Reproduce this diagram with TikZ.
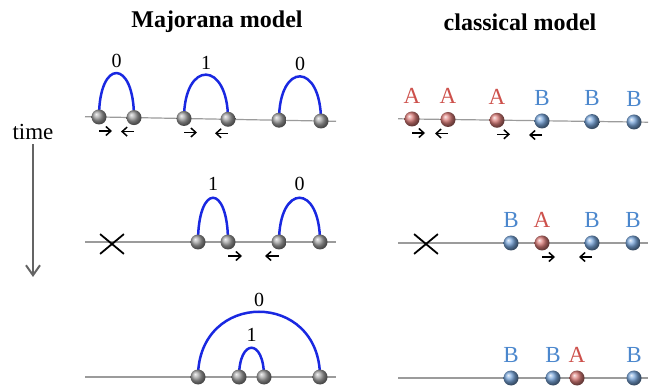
\documentclass[tikz,border=0pt]{standalone}
\usepackage{fontspec}
\setmainfont{Liberation Serif}
\usetikzlibrary{arrows.meta,backgrounds,shapes.misc}
\definecolor{archblue}{RGB}{25,40,225}
\definecolor{ared}{RGB}{205,80,75}
\definecolor{bblue}{RGB}{75,135,205}
\definecolor{wire}{RGB}{155,155,155}
\definecolor{tgray}{RGB}{100,100,100}

\begin{document}
\begin{tikzpicture}[x=0.5pt,y=0.5pt,label distance=3.75pt,
    ball/.style={circle,inner sep=0pt,minimum size=7.5pt,shading=ball,ball color=gray!75},
    aball/.style={ball,ball color=ared!75!white,label={[lta]above:A}},
    bball/.style={ball,ball color=bblue!75!white,label={[ltb]above:B}},
    lta/.style={text=ared,inner sep=0pt,font=\fontsize{11.5}{13}\selectfont},
    ltb/.style={lta,text=bblue},
    dig/.style={inner sep=0pt,font=\fontsize{10}{12}\selectfont},
    ttl/.style={inner sep=0pt,font=\fontsize{12}{14}\selectfont\bfseries},
    arch/.style={draw=archblue,line width=1.25pt},
    wireline/.style={draw=wire,line width=0.6pt},
    mv/.style={draw=black,line width=0.75pt,-{Straight Barb[length=2.5pt,width=4.5pt]}},
    lost/.style={cross out,draw=black,line width=0.9pt,minimum width=11pt,minimum height=9pt,inner sep=0pt}]
  \useasboundingbox (0,0) rectangle (657,390);
  \node[ttl] (tmaj) at (217,368) {Majorana model};
  \node[ttl] (tcla) at (520,368) {classical model};
  \node[inner sep=2pt,font=\fontsize{11.5}{13}\selectfont] (time) at (33,258) {time};
  \coordinate (tend) at (33,113);
  \draw[draw=tgray,line width=1pt,-{Straight Barb[length=5pt,width=7pt]}] (time) -- (tend);

  \node[ball] (m1) at (99,273) {}; \node[ball] (m2) at (134,272.4) {}; \node[ball] (m3) at (184,271.5) {};
  \node[ball] (m4) at (228,270.7) {}; \node[ball] (m5) at (279,269.8) {}; \node[ball] (m6) at (321,269) {};
  \node[lost] (nx) at (112,146) {};
  \node[ball] (n1) at (198,148) {}; \node[ball] (n2) at (228,148) {}; \node[ball] (n3) at (279,148) {}; \node[ball] (n4) at (320,148) {};
  \node[ball] (p1) at (198,13) {}; \node[ball] (p2) at (239,13) {}; \node[ball] (p3) at (264,13) {}; \node[ball] (p4) at (320,13) {};

  \node[aball] (c1) at (412,271) {}; \node[aball] (c2) at (448,270.5) {}; \node[aball] (c3) at (497,269.7) {};
  \node[bball] (c4) at (542,269) {}; \node[bball] (c5) at (592,268.4) {}; \node[bball] (c6) at (634,268) {};
  \node[lost] (dx) at (426,146) {};
  \node[bball] (d1) at (511,147) {}; \node[aball] (d2) at (542,147) {}; \node[bball] (d3) at (592,147) {}; \node[bball] (d4) at (633,147) {};
  \node[bball] (e1) at (511,12) {}; \node[bball] (e2) at (553,12) {}; \node[aball] (e3) at (577,12) {}; \node[bball] (e4) at (634,12) {};

  \draw[mv] ([yshift=-7pt]m1.center) -- +(13,0); \draw[mv] ([yshift=-7pt]m2.center) -- +(-13,0);
  \draw[mv] ([yshift=-7pt]m3.center) -- +(13,0); \draw[mv] ([yshift=-7pt]m4.center) -- +(-13,0);
  \draw[mv] ([yshift=-7pt]n2.center) -- +(14,0); \draw[mv] ([yshift=-7pt]n3.center) -- +(-14,0);
  \draw[mv] ([yshift=-7pt]c1.center) -- +(13,0); \draw[mv] ([yshift=-7pt]c2.center) -- +(-13,0);
  \draw[mv] ([yshift=-7pt]c3.center) -- +(13,0); \draw[mv] ([yshift=-7pt]c4.center) -- +(-13,0);
  \draw[mv] ([yshift=-7pt]d2.center) -- +(13,0); \draw[mv] ([yshift=-7pt]d3.center) -- +(-13,0);

  \begin{scope}[on background layer]
    \path[wireline] (85,273.3) -- (336,268.7); \path[wireline] (85,148) -- (336,148); \path[wireline] (85,13) -- (336,13);
    \path[wireline] (398,271.2) -- (648,267.8); \path[wireline] (398,147) -- (648,147); \path[wireline] (398,12) -- (648,12);
    \path[arch] (m1.center) .. controls +(0,59) and +(0,59) .. (m2.center) node[dig,midway,above=2pt] {0};
    \path[arch] (m3.center) .. controls +(0,59) and +(0,59) .. (m4.center) node[dig,midway,above=2pt] {1};
    \path[arch] (m5.center) .. controls +(0,59) and +(0,59) .. (m6.center) node[dig,midway,above=2pt] {0};
    \path[arch] (n1.center) .. controls +(0,59) and +(0,59) .. (n2.center) node[dig,midway,above=3pt] {1};
    \path[arch] (n3.center) .. controls +(0,59) and +(0,59) .. (n4.center) node[dig,midway,above=3pt] {0};
    \path[arch] (p1.center) .. controls +(0,87) and +(0,87) .. (p4.center) node[dig,midway,above=2pt] {0};
    \path[arch] (p2.center) .. controls +(0,39) and +(0,39) .. (p3.center) node[dig,midway,above=2.5pt] {1};
  \end{scope}
\end{tikzpicture}
\end{document}
